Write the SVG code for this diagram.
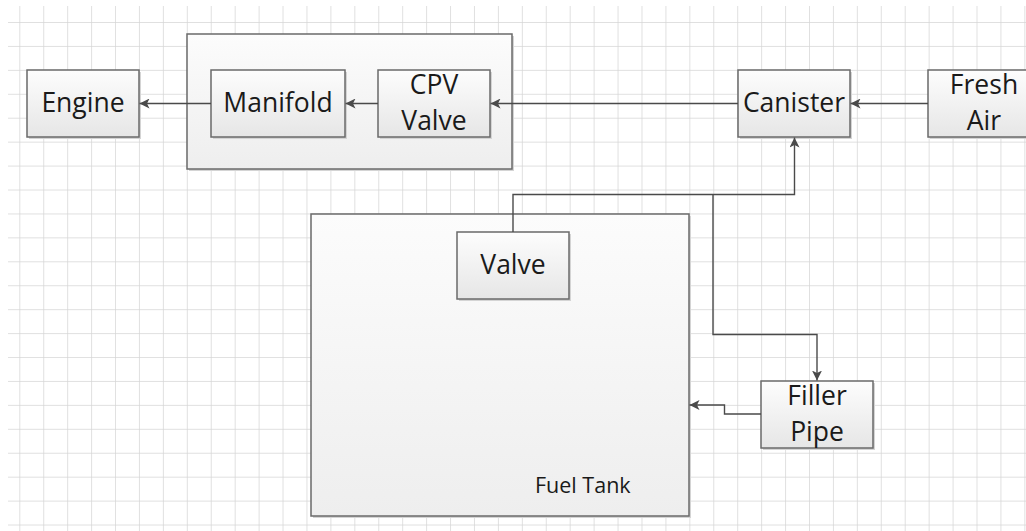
<svg xmlns="http://www.w3.org/2000/svg" width="1026" height="531" viewBox="0 0 1026 531">
<defs>
  <pattern id="grid" x="19.3" y="22" width="23.93" height="23.93" patternUnits="userSpaceOnUse">
    <path d="M0,0 V23.93 M0,0 H23.93" fill="none" stroke="#d6d6d6" stroke-width="1.5"/>
  </pattern>
  <linearGradient id="boxfill" x1="0" y1="0" x2="0" y2="1">
    <stop offset="0" stop-color="#fdfdfd"/>
    <stop offset="1" stop-color="#e6e6e6"/>
  </linearGradient>
  <linearGradient id="bigfill" x1="0" y1="0" x2="0" y2="1">
    <stop offset="0" stop-color="#fcfcfc"/>
    <stop offset="1" stop-color="#eeeeee"/>
  </linearGradient>
  <marker id="arrow" viewBox="0 0 10 10" refX="10" refY="5" markerWidth="10" markerHeight="10" markerUnits="userSpaceOnUse" orient="auto">
    <path d="M0,0 L10,5 L0,10 L2.5,5 Z" fill="#4a4a4a"/>
  </marker>
</defs>
<style>
  .box { fill: url(#boxfill); stroke: #6a6a6a; stroke-width: 1.5; }
  .big { fill: url(#bigfill); stroke: #6a6a6a; stroke-width: 1.5; }
  .shadow { fill: #d4d4d4; }
  .lbl { font-family: "Open Sans", "Noto Sans", sans-serif; font-size: 26.5px; fill: #1a1a1a; text-anchor: middle; }
  .small { font-family: "Open Sans", "Noto Sans", sans-serif; font-size: 21.5px; fill: #1a1a1a; }
  .conn { fill: none; stroke: #4a4a4a; stroke-width: 1.4; }
</style>
<rect x="0" y="0" width="1026" height="531" fill="#ffffff"/>
<rect x="8" y="6" width="1018" height="525" fill="url(#grid)"/>

<g id="container-purge">
  <rect class="shadow" x="189" y="36" width="325" height="135"/>
  <rect class="big" x="187" y="34" width="325" height="135"/>
</g>
<g id="fuel-tank">
  <rect class="shadow" x="313" y="216" width="378" height="302"/>
  <rect class="big" x="311" y="214" width="378" height="302"/>
  <text class="small" x="535" y="493">Fuel Tank</text>
</g>
<g id="engine">
  <rect class="shadow" x="29" y="72" width="112" height="67"/>
  <rect class="box" x="27" y="70" width="112" height="67"/>
  <text class="lbl" x="83" y="112">Engine</text>
</g>
<g id="manifold">
  <rect class="shadow" x="213" y="72" width="134" height="67"/>
  <rect class="box" x="211" y="70" width="134" height="67"/>
  <text class="lbl" x="278" y="112">Manifold</text>
</g>
<g id="cpv-valve">
  <rect class="shadow" x="380" y="72" width="112" height="67"/>
  <rect class="box" x="378" y="70" width="112" height="67"/>
  <text class="lbl" x="434" y="94">CPV</text>
  <text class="lbl" x="434" y="130">Valve</text>
</g>
<g id="canister">
  <rect class="shadow" x="740" y="72" width="112" height="67"/>
  <rect class="box" x="738" y="70" width="112" height="67"/>
  <text class="lbl" x="794" y="112">Canister</text>
</g>
<g id="fresh-air">
  <rect class="shadow" x="930" y="72" width="112" height="67"/>
  <rect class="box" x="928" y="70" width="112" height="67"/>
  <text class="lbl" x="984" y="94">Fresh</text>
  <text class="lbl" x="984" y="130">Air</text>
</g>
<g id="valve">
  <rect class="shadow" x="459" y="234" width="112" height="67"/>
  <rect class="box" x="457" y="232" width="112" height="67"/>
  <text class="lbl" x="513" y="274">Valve</text>
</g>
<g id="filler-pipe">
  <rect class="shadow" x="763" y="383" width="112" height="67"/>
  <rect class="box" x="761" y="381" width="112" height="67"/>
  <text class="lbl" x="817" y="405">Filler</text>
  <text class="lbl" x="817" y="441">Pipe</text>
</g>

<g id="connectors">
  <path class="conn" d="M211,103.5 H139.5" marker-end="url(#arrow)"/>
  <path class="conn" d="M378,103.5 H345.5" marker-end="url(#arrow)"/>
  <path class="conn" d="M738,103.5 H490.5" marker-end="url(#arrow)"/>
  <path class="conn" d="M928,103.5 H850.5" marker-end="url(#arrow)"/>
  <path class="conn" d="M513,232 V194.5 H794.5 V137.5" marker-end="url(#arrow)"/>
  <path class="conn" d="M713,194.5 V334.5 H817 V380.5" marker-end="url(#arrow)"/>
  <path class="conn" d="M761,414 H724.5 V405 H689.5" marker-end="url(#arrow)"/>
</g>
</svg>
